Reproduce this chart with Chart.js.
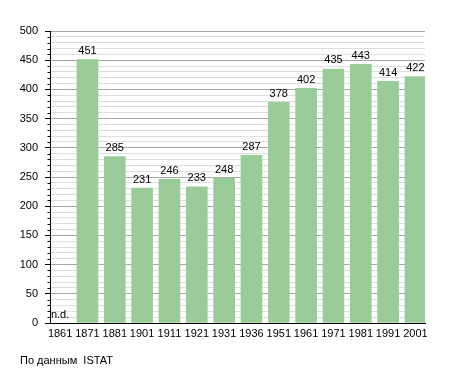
<!DOCTYPE html>
<html>
<head>
<meta charset="utf-8">
<script src="https://cdn.jsdelivr.net/npm/chart.js@4.4.1/dist/chart.umd.min.js"></script>
<style>
  html, body { margin: 0; padding: 0; background: #fff; }
  #wrap { position: relative; width: 455px; height: 373px; }
  #source {
    position: absolute; left: 20px; top: 354px;
    font: 11px "Liberation Sans", Arial, sans-serif; color: #000;
    white-space: pre;
  }
</style>
</head>
<body>
<div id="wrap">
  <canvas id="chart" width="455" height="373"></canvas>
  <div id="source">По данным  ISTAT</div>
</div>
<script>
// anni del censimento
const years = ["1861", "1871", "1881", "1901", "1911", "1921", "1931", "1936", "1951", "1961", "1971", "1981", "1991", "2001"];
// abitanti (1861 non disponibile)
const population = [null, 451, 285, 231, 246, 233, 248, 287, 378, 402, 435, 443, 414, 422];
const yMax = 500;
const yMajor = 50;
const yMinor = 10;
const missingLabel = "n.d.";

const FONT = '"Liberation Sans", Arial, sans-serif';

// etichette sopra le barre + "n.d." + tacche minori
const labelsPlugin = {
  id: "labels",
  afterDatasetsDraw(chart) {
    const ctx = chart.ctx;
    const meta = chart.getDatasetMeta(0);
    const yScale = chart.scales.y;
    ctx.save();
    ctx.font = "11px " + FONT;
    ctx.fillStyle = "#000";
    ctx.textAlign = "center";
    ctx.textBaseline = "bottom";
    meta.data.forEach((bar, i) => {
      const v = population[i];
      if (v === null) {
        const x = chart.scales.x.getPixelForValue(i);
        ctx.fillText(missingLabel, x, yScale.getPixelForValue(0) - 3);
      } else {
        ctx.fillText(String(v), bar.x, bar.y - 3);
      }
    });
    // tacche minori sull'asse y
    ctx.strokeStyle = "#000";
    ctx.lineWidth = 1;
    ctx.beginPath();
    for (let v = 0; v <= yMax; v += yMinor) {
      if (v % yMajor === 0) continue;
      const y = Math.round(yScale.getPixelForValue(v)) + 0.5;
      ctx.moveTo(yScale.right - 2.5, y);
      ctx.lineTo(yScale.right, y);
    }
    ctx.stroke();
    ctx.restore();
  }
};

new Chart(document.getElementById("chart"), {
  type: "bar",
  data: {
    datasets: [{
      data: population.map((v, i) => ({ x: i, y: v })),
      backgroundColor: "#99cc99",
      borderWidth: 0,
      barThickness: 21
    }]
  },
  options: {
    responsive: false,
    animation: false,
    layout: { padding: { top: 31, right: 30, left: 0, bottom: 0 } },
    plugins: {
      legend: { display: false },
      tooltip: { enabled: false }
    },
    scales: {
      x: {
        type: "linear",
        offset: false,
        min: -0.37,
        max: 13.35,
        afterBuildTicks: (scale) => { scale.ticks = years.map((_, i) => ({ value: i })); },
        afterFit: (scale) => { scale.height = 50; },
        grid: { display: false, drawTicks: false },
        border: { display: true, color: "#000", width: 1 },
        ticks: {
          autoSkip: false,
          maxRotation: 0,
          padding: 4,
          color: "#000",
          font: { family: FONT, size: 11 },
          callback: (v) => years[v]
        }
      },
      y: {
        min: 0,
        max: yMax,
        afterFit: (scale) => { scale.width = 50; },
        ticks: {
          stepSize: yMinor,
          autoSkip: false,
          padding: 7,
          color: "#000",
          font: { family: FONT, size: 11 },
          callback: (v) => (v % yMajor === 0 ? v : "")
        },
        grid: {
          color: (c) => (c.tick.value % yMajor === 0 ? "#a8a8a8" : "#dedede"),
          tickColor: (c) => (c.tick.value % yMajor === 0 ? "#000" : "rgba(0,0,0,0)"),
          tickLength: 5,
          lineWidth: 1
        },
        border: { display: true, color: "#000", width: 1 }
      }
    }
  },
  plugins: [labelsPlugin]
});
</script>
</body>
</html>
